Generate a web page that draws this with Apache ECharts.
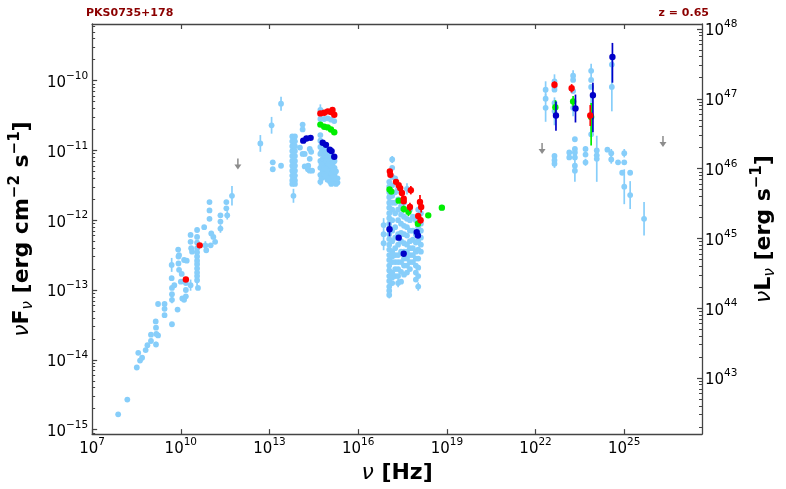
<!DOCTYPE html>
<html><head><meta charset="utf-8">
<script src="https://cdn.jsdelivr.net/npm/echarts@6/dist/echarts.min.js"></script>
<style>html,body{margin:0;padding:0;background:#fff}#c{width:786px;height:489px}</style>
</head><body><div id="c"></div>
<script>
// All values are log10: [log nu (Hz), log nuF_nu (erg cm^-2 s^-1), err (dex) | errLo, errHi]
const FONT = 'DejaVu Sans';
const LUM_OFFSET = 57.26; // log10(4 pi dL^2) at z = 0.65
const xTicks = [7, 10, 13, 16, 19, 22, 25];
const yTicks = [-15, -14, -13, -12, -11, -10];
const lTicks = [43, 44, 45, 46, 47, 48];

const radioArchive = [
[7.88,-14.78,0],[8.19,-14.57,0],[8.51,-14.11,0],[8.56,-13.90,0],[8.62,-14.01,0],[8.69,-13.97,0],
[8.81,-13.86,0],[8.87,-13.79,0],[8.99,-13.73,0],[8.99,-13.64,0],[9.15,-13.45,0],[9.16,-13.54,0],
[9.17,-13.63,0],[9.16,-13.78,0.04],[9.23,-13.65,0],[9.23,-13.20,0],[9.45,-13.20,0],[9.45,-13.27,0],
[9.45,-13.36,0],[9.70,-13.49,0],[9.70,-12.97,0],[9.70,-13.06,0],[9.70,-13.14,0.05],[9.69,-12.64,0.1],
[9.69,-12.83,0],[9.78,-12.93,0],[9.89,-13.28,0],[9.91,-12.42,0],[9.92,-12.52,0],[9.92,-12.62,0],
[9.94,-12.50,0],[9.94,-12.71,0],[10.0,-12.88,0],[10.03,-12.77,0],[10.05,-13.12,0],[10.11,-13.14,0],
[10.17,-12.90,0],[10.17,-13.00,0],[10.17,-13.09,0],[10.11,-12.57,0],[10.20,-12.58,0],[10.33,-12.21,0],
[10.33,-12.31,0],[10.35,-12.40,0],[10.33,-12.93,0.08],[10.38,-12.45,0],[10.55,-12.14,0],[10.55,-12.24,0],
[10.55,-12.40,0],[10.55,-12.52,0],[10.55,-12.63,0],[10.55,-12.75,0],[10.55,-12.86,0.08],[10.58,-12.97,0],
[10.55,-12.32,0],[10.55,-12.46,0],[10.55,-12.58,0],[10.55,-12.69,0],[10.55,-12.80,0],
[10.79,-12.10,0],[10.83,-12.36,0.06],[10.86,-12.43,0],[10.97,-11.74,0],[10.97,-11.86,0],[10.97,-11.98,0],
[11.03,-12.19,0],[11.10,-12.24,0],[11.01,-12.36,0],[11.16,-12.31,0],[11.34,-11.93,0],[11.34,-12.02,0],
[11.34,-12.12,0.06],[11.54,-11.74,0],[11.54,-11.83,0],[11.57,-11.93,0.06],[11.73,-11.65,0.14]
];

const optArchive = [
[12.69,-10.90,0.12],[13.07,-10.64,0.12],[13.39,-10.33,0.1],[13.11,-11.17,0],[13.11,-11.27,0],
[13.39,-11.22,0],[13.81,-11.65,0.1],
[13.77,-10.80,0],[13.77,-10.87,0],[13.77,-10.94,0],[13.77,-11.01,0],[13.77,-11.08,0],[13.77,-11.15,0],
[13.77,-11.22,0],[13.77,-11.29,0],[13.77,-11.36,0],[13.77,-11.43,0],[13.77,-11.48,0],
[13.86,-10.80,0],[13.86,-10.87,0],[13.86,-10.94,0],[13.86,-11.01,0],[13.86,-11.08,0],[13.86,-11.15,0],
[13.86,-11.22,0],[13.86,-11.29,0],[13.86,-11.36,0],[13.86,-11.43,0],[13.86,-11.48,0],
[14.12,-10.63,0],[14.12,-10.70,0],[14.12,-11.05,0],[14.36,-10.98,0],[14.31,-11.22,0],[14.36,-11.29,0],
[14.03,-10.96,0],[14.19,-11.05,0],[14.41,-11.02,0],[14.36,-11.12,0],[14.19,-11.23,0],[14.30,-11.27,0],
[14.44,-11.29,0],
[14.72,-10.42,0.08],[14.72,-10.55,0],[14.85,-10.55,0],[14.97,-10.54,0],[15.08,-10.56,0],[15.19,-10.58,0],
[14.72,-10.78,0],[14.72,-10.86,0],
[14.72,-10.95,0],[14.72,-11.05,0],[14.72,-11.15,0],[14.72,-11.25,0],[14.72,-11.35,0],[14.72,-11.45,0.05],
[14.80,-11.00,0],[14.80,-11.12,0],[14.80,-11.20,0],[14.80,-11.30,0],
[14.88,-10.98,0],[14.88,-11.08,0],[14.88,-11.18,0],[14.88,-11.28,0],[14.88,-11.38,0],
[14.96,-11.00,0],[14.96,-11.10,0],[14.96,-11.22,0],[14.96,-11.32,0],[14.96,-11.42,0],
[15.05,-11.05,0],[15.05,-11.15,0],[15.05,-11.25,0],[15.05,-11.35,0],[15.05,-11.45,0],
[15.13,-11.10,0],[15.13,-11.20,0],[15.13,-11.30,0],[15.13,-11.42,0],
[15.20,-11.15,0],[15.20,-11.25,0],[15.20,-11.35,0],[15.20,-11.44,0],
[15.30,-11.40,0],[15.30,-11.46,0],
[14.76,-11.02,0],[14.76,-11.20,0],[14.76,-11.40,0],[14.84,-11.06,0],[14.84,-11.25,0],[14.84,-11.34,0],
[14.92,-11.04,0],[14.92,-11.15,0],[14.92,-11.27,0],[14.92,-11.37,0],[15.00,-11.08,0],[15.00,-11.19,0],
[15.00,-11.30,0],[15.00,-11.40,0],[15.09,-11.12,0],[15.09,-11.22,0],[15.09,-11.33,0],[15.09,-11.48,0],
[15.17,-11.16,0],[15.17,-11.28,0],[15.17,-11.38,0],[15.25,-11.30,0],[15.25,-11.42,0],[15.25,-11.48,0]
];

const xrayArchive = [
[16.86,-12.07,0.1],[16.86,-12.20,0],[16.86,-12.33,0.1],
[17.05,-11.45,0],[17.05,-11.60,0],[17.05,-11.75,0],[17.05,-11.90,0],[17.05,-12.05,0],[17.05,-12.20,0],
[17.05,-12.35,0],[17.05,-12.50,0],[17.05,-12.65,0],[17.05,-12.80,0.06],[17.05,-12.95,0.06],[17.05,-13.07,0.05],
[17.05,-11.52,0],[17.05,-11.67,0],[17.05,-11.82,0],[17.05,-11.97,0],[17.05,-12.12,0],[17.05,-12.27,0],
[17.05,-12.42,0],[17.05,-12.57,0],[17.05,-12.72,0],[17.05,-12.87,0],[17.05,-13.01,0],
[17.15,-11.13,0.05],[17.15,-11.25,0],[17.15,-11.50,0],[17.15,-11.65,0],[17.15,-11.85,0],[17.15,-12.00,0],
[17.15,-12.30,0],[17.15,-12.45,0],[17.15,-12.60,0],[17.15,-12.75,0],[17.15,-12.90,0],
[17.15,-11.38,0],[17.15,-11.75,0],[17.15,-12.15,0],[17.15,-12.52,0],[17.15,-12.82,0],
[17.25,-11.40,0],[17.25,-11.60,0],[17.25,-11.90,0],[17.25,-12.10,0],[17.25,-12.40,0],[17.25,-12.60,0],[17.25,-12.80,0],
[17.25,-11.75,0],[17.25,-12.25,0],[17.25,-12.50,0],[17.25,-12.70,0],
[17.35,-11.55,0],[17.35,-11.70,0],[17.35,-12.00,0],[17.35,-12.20,0],[17.35,-12.50,0],[17.35,-12.70,0],[17.35,-12.90,0.06],
[17.35,-11.85,0],[17.35,-12.35,0],[17.35,-12.60,0],[17.35,-12.80,0],
[17.45,-11.60,0],[17.45,-11.80,0],[17.45,-12.05,0],[17.45,-12.30,0],[17.45,-12.60,0],[17.45,-12.88,0],
[17.45,-11.92,0],[17.45,-12.18,0],[17.45,-12.45,0],[17.45,-12.74,0],
[17.55,-11.75,0],[17.55,-11.95,0],[17.55,-12.20,0],[17.55,-12.45,0],[17.55,-12.65,0],
[17.55,-12.08,0],[17.55,-12.33,0],[17.55,-12.55,0],[17.55,-12.78,0],
[17.65,-11.55,0.08],[17.65,-11.85,0],[17.65,-12.10,0],[17.65,-12.35,0],[17.65,-12.55,0],[17.65,-12.75,0],
[17.65,-11.98,0],[17.65,-12.22,0],[17.65,-12.45,0],[17.65,-12.65,0],
[17.75,-11.85,0],[17.75,-12.00,0],[17.75,-12.30,0],[17.75,-12.50,0],[17.75,-12.70,0],
[17.75,-12.15,0],[17.75,-12.40,0],[17.75,-12.60,0],
[17.85,-11.95,0],[17.85,-12.15,0],[17.85,-12.40,0],[17.85,-12.60,0],[17.85,-12.28,0],[17.85,-12.50,0],
[17.95,-12.00,0],[17.95,-12.20,0],[17.95,-12.45,0],[17.95,-12.65,0],[17.95,-12.85,0],
[17.95,-12.32,0],[17.95,-12.55,0],[17.95,-12.75,0],
[18.03,-11.85,0],[18.03,-12.10,0],[18.03,-12.30,0],[18.03,-12.55,0],[18.03,-12.80,0],[18.03,-12.95,0.06],
[18.03,-12.20,0],[18.03,-12.42,0],[18.03,-12.68,0],
[18.12,-11.90,0],[18.12,-12.05,0],[18.12,-12.25,0],[18.12,-12.45,0],[18.12,-12.15,0],[18.12,-12.35,0],
[18.83,-11.82,0]
];

const gammaArchive = [
[22.34,-10.13,0.12],[22.34,-10.26,0],[22.34,-10.39,0.2],
[22.64,-10.01,0.1],[22.64,-10.09,0],[22.64,-10.13,0],[22.64,-10.32,0],[22.64,-10.44,0.2],
[22.64,-11.08,0],[22.64,-11.14,0],[22.64,-11.19,0.06],
[23.14,-11.03,0],[23.14,-11.10,0],
[23.27,-9.93,0.08],[23.27,-9.99,0],[23.27,-10.15,0],[23.27,-10.39,0.12],
[23.33,-10.84,0],[23.33,-10.98,0],[23.33,-11.03,0],[23.33,-11.10,0],[23.33,-11.22,0],[23.33,-11.29,0.16],
[23.69,-10.98,0],[23.69,-11.06,0],[23.69,-11.17,0.05],
[23.88,-9.86,0.1],[23.88,-9.99,0],[23.88,-10.09,0],[23.88,-10.50,0.3],[23.88,-10.77,0],
[24.07,-11.00,0],[24.07,-11.07,0],[24.07,-11.12,0.33],
[24.43,-10.99,0],[24.56,-11.04,0.06],[24.56,-11.13,0.06],
[24.58,-9.77,0.15],[24.58,-10.09,0.35],
[24.79,-11.17,0],[24.93,-11.32,0],
[25.00,-11.04,0.06],[25.00,-11.17,0],[25.00,-11.52,0.25],
[25.20,-11.32,0],[25.20,-11.64,0.2],
[25.67,-11.98,0.24]
];

const flareRed = [
[10.17,-12.85,0],[10.64,-12.36,0],
[14.72,-10.47,0],[14.85,-10.46,0],[14.97,-10.44,0],[15.08,-10.45,0],[15.13,-10.42,0],[15.19,-10.49,0],
[17.07,-11.30,0.03],[17.09,-11.35,0],[17.28,-11.45,0],[17.37,-11.50,0],[17.42,-11.54,0],[17.48,-11.61,0],
[17.54,-11.69,0],[17.54,-11.73,0],[17.78,-11.57,0.06],[17.75,-11.81,0.06],[18.03,-11.94,0],
[18.09,-11.74,0.1],[18.13,-11.81,0.08],[18.11,-12.00,0.05],
[22.64,-10.06,0.05],[23.22,-10.11,0.06],[23.85,-10.50,0.15]
];
const flareGreen = [
[14.72,-10.63,0],[14.85,-10.66,0],[14.97,-10.67,0],[15.08,-10.70,0],[15.19,-10.74,0],
[17.06,-11.56,0],[17.12,-11.59,0],[17.37,-11.72,0],[17.54,-11.84,0.05],[17.70,-11.88,0.06],
[18.02,-12.05,0],[18.37,-11.93,0],[18.83,-11.82,0],
[22.67,-10.38,0.1],[23.27,-10.30,0.08],[23.88,-10.52,0.41,0.2]
];
const flareBlue = [
[14.14,-10.86,0],[14.25,-10.83,0],[14.39,-10.82,0],[14.80,-10.89,0],[14.91,-10.92,0],
[15.04,-10.99,0],[15.10,-11.01,0],[15.19,-11.09,0],
[17.06,-12.13,0.1],[17.37,-12.25,0],[17.54,-12.48,0],[17.98,-12.17,0],[18.02,-12.22,0],
[22.69,-10.50,0.22,0.2],[23.35,-10.40,0.2],[23.94,-10.21,0.53,0.18],[24.60,-9.66,0.37,0.2]
];
const upperLimits = [[11.93,-11.20],[22.22,-10.98],[26.31,-10.88]];

// ---- helpers ----
const Y_MIN = -15.064, Y_MAX = -9.189, X_MIN = 7, X_MAX = 27.63;
function minors(lo, hi) {
  const out = [];
  for (let n = Math.floor(lo); n <= Math.ceil(hi); n++)
    for (let k = 2; k <= 9; k++) { const v = n + Math.log10(k); if (v > lo && v < hi) out.push(v); }
  return out;
}
const supFmt = v => '{b|10}{s|' + String(Math.round(v)).replace('-', '\u2212') + '}';
const labelRich = {
  b: { fontSize: 15, lineHeight: 20, verticalAlign: 'bottom', fontFamily: FONT, color: '#000' },
  s: { fontSize: 10.5, lineHeight: 9, verticalAlign: 'top', fontFamily: FONT, color: '#000' }
};
const AX = '#444';
function norm(d) { return d.map(p => p.length === 3 ? [p[0], p[1], p[2], p[2]] : p); }
function errSeries(data, color, r, lw) {
  return {
    type: 'custom', xAxisIndex: 0, yAxisIndex: 0, clip: true, silent: true,
    data: norm(data),
    renderItem: function (params, api) {
      const x = api.value(0), y = api.value(1), lo = api.value(2), hi = api.value(3);
      const c = api.coord([x, y]);
      const ch = [];
      if (lo > 0 || hi > 0) {
        const a = api.coord([x, y - lo]), b = api.coord([x, y + hi]);
        ch.push({ type: 'line', shape: { x1: a[0], y1: a[1], x2: b[0], y2: b[1] }, style: { stroke: color, lineWidth: lw } });
      }
      ch.push({ type: 'circle', shape: { cx: c[0], cy: c[1], r: r }, style: { fill: color } });
      return { type: 'group', children: ch };
    }
  };
}
const limitSeries = {
  type: 'custom', xAxisIndex: 0, yAxisIndex: 0, silent: true, data: upperLimits,
  renderItem: function (params, api) {
    const c = api.coord([api.value(0), api.value(1)]);
    return { type: 'group', children: [
      { type: 'line', shape: { x1: c[0], y1: c[1] - 6, x2: c[0], y2: c[1] + 2 }, style: { stroke: '#8c8c8c', lineWidth: 1.5 } },
      { type: 'polygon', shape: { points: [[c[0] - 3.5, c[1]], [c[0] + 3.5, c[1]], [c[0], c[1] + 5]] }, style: { fill: '#8c8c8c' } }
    ] };
  }
};

const chart = echarts.init(document.getElementById('c'), null, { renderer: 'canvas' });
const titleRich = {
  n: { fontSize: 22, fontStyle: 'italic', fontWeight: 'normal', lineHeight: 28, verticalAlign: 'middle', fontFamily: FONT, color: '#000' },
  b: { fontSize: 22, fontWeight: 'bold', lineHeight: 28, verticalAlign: 'middle', fontFamily: FONT, color: '#000' },
  sp: { fontSize: 15, fontWeight: 'bold', lineHeight: 14, verticalAlign: 'top', fontFamily: FONT, color: '#000' },
  sb: { fontSize: 15, fontStyle: 'italic', fontWeight: 'normal', lineHeight: 14, verticalAlign: 'bottom', fontFamily: FONT, color: '#000' }
};
const yMinor = minors(Y_MIN, Y_MAX);
const lMinor = minors(Y_MIN + LUM_OFFSET, Y_MAX + LUM_OFFSET);
const LB = '#87cefa';

chart.setOption({
  animation: false,
  backgroundColor: '#fff',
  textStyle: { fontFamily: FONT },
  title: [
    { text: 'PKS0735+178', left: 86, top: 8, padding: 0, textStyle: { color: '#8b0000', fontSize: 11, fontWeight: 'bold', fontFamily: FONT } },
    { text: 'z = 0.65', right: 77, top: 8, padding: 0, textStyle: { color: '#8b0000', fontSize: 11, fontWeight: 'bold', fontFamily: FONT } }
  ],
  grid: { left: 86, right: 77, top: 24, bottom: 52, containLabel: false },
  xAxis: [
    { type: 'value', min: X_MIN, max: X_MAX, position: 'bottom',
      name: '{n|ν}{b| [Hz]}', nameLocation: 'middle', nameGap: 21, nameTextStyle: { rich: titleRich },
      axisLine: { show: true, lineStyle: { color: AX, width: 1.3 } },
      axisTick: { show: true, inside: true, length: 5, customValues: xTicks, lineStyle: { color: AX, width: 1.2 } },
      axisLabel: { show: true, customValues: xTicks, formatter: supFmt, rich: labelRich, margin: 3, color: '#000' },
      splitLine: { show: false } },
    { type: 'value', min: X_MIN, max: X_MAX, position: 'top',
      axisLine: { show: true, lineStyle: { color: AX, width: 1.3 } },
      axisTick: { show: true, inside: true, length: 5, customValues: xTicks.slice(1), lineStyle: { color: AX, width: 1.2 } },
      axisLabel: { show: false }, splitLine: { show: false } }
  ],
  yAxis: [
    { type: 'value', min: Y_MIN, max: Y_MAX, position: 'left',
      name: '{n|ν}{b|F}{sb|ν}{b| [erg cm}{sp|\u22122}{b| s}{sp|\u22121}{b|]}',
      nameLocation: 'middle', nameRotate: 90, nameGap: 52, nameTextStyle: { rich: titleRich },
      axisLine: { show: true, lineStyle: { color: AX, width: 1.3 } },
      axisTick: { show: true, inside: true, length: 5, customValues: yTicks, lineStyle: { color: AX, width: 1.2 } },
      axisLabel: { show: true, customValues: yTicks, formatter: supFmt, rich: labelRich, margin: 4, color: '#000' },
      splitLine: { show: false } },
    { type: 'value', min: Y_MIN, max: Y_MAX, position: 'left',
      axisLine: { show: false },
      axisTick: { show: true, inside: true, length: 3, customValues: yMinor, lineStyle: { color: AX, width: 1 } },
      axisLabel: { show: false }, splitLine: { show: false } },
    { type: 'value', min: Y_MIN + LUM_OFFSET, max: Y_MAX + LUM_OFFSET, position: 'right',
      name: '{n|ν}{b|L}{sb|ν}{b| [erg s}{sp|\u22121}{b|]}',
      nameLocation: 'middle', nameRotate: 90, nameGap: 48, nameTextStyle: { rich: titleRich },
      axisLine: { show: true, lineStyle: { color: AX, width: 1.3 } },
      axisTick: { show: true, inside: true, length: 5, customValues: lTicks, lineStyle: { color: AX, width: 1.2 } },
      axisLabel: { show: true, customValues: lTicks, formatter: supFmt, rich: labelRich, margin: 3, color: '#000' },
      splitLine: { show: false } },
    { type: 'value', min: Y_MIN + LUM_OFFSET, max: Y_MAX + LUM_OFFSET, position: 'right',
      axisLine: { show: false },
      axisTick: { show: true, inside: true, length: 3, customValues: lMinor, lineStyle: { color: AX, width: 1 } },
      axisLabel: { show: false }, splitLine: { show: false } }
  ],
  series: [
    errSeries(radioArchive, LB, 2.9, 1.7),
    errSeries(optArchive, LB, 2.9, 1.7),
    errSeries(xrayArchive, LB, 2.9, 1.7),
    errSeries(gammaArchive, LB, 2.9, 1.7),
    limitSeries,
    errSeries(flareGreen, '#00ee00', 3.2, 1.7),
    errSeries(flareBlue, '#0000c8', 3.2, 1.7),
    errSeries(flareRed, '#ff0000', 3.2, 1.7)
  ]
});
</script></body></html>
